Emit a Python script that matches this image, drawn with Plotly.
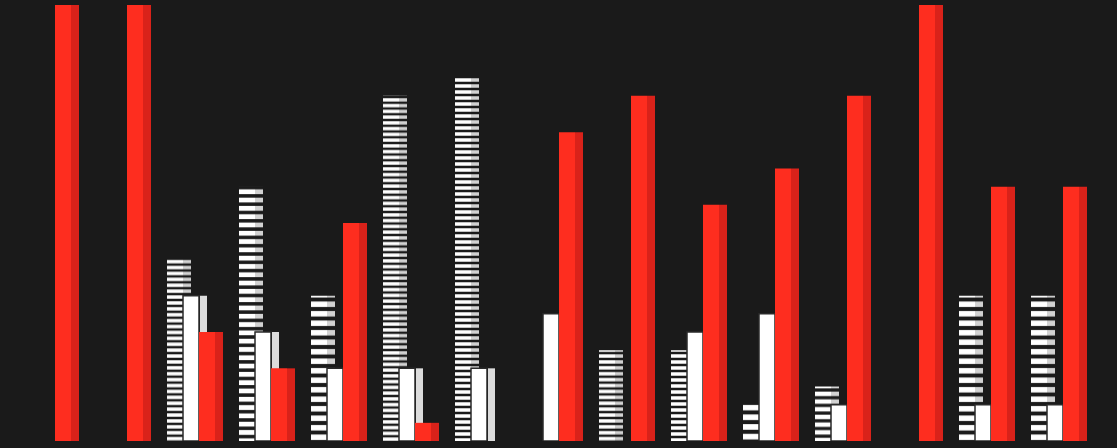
import plotly.graph_objects as go

categories = [str(i + 1) for i in range(15)]
striped = [None, None, 10, 14, 8, 19, 20, None, 5, 5, 2, 3, None, 8, 8]
white = [None, None, 8, 6, 4, 4, 4, 7, None, 6, 7, 2, None, 2, 2]
red = [25, 25, 6, 4, 12, 1, None, 17, 19, 13, 15, 19, 25, 14, 14]

# stripe period (px) of the hatched bars, per category (style only)
stripe_period = [6, 6, 5.9, 8.3, 9.5, 5.75, 6.0, 6, 5.9, 6.0, 9.7, 7.7, 6, 9.5, 9.5]

BG = "#1a1a1a"
U = 1 / 72.0  # one pixel in category units
FACE_W = 16 * U
SIDE_W = 8 * U

fig = go.Figure()

# striped series
fig.add_trace(go.Bar(
    x=categories, y=striped, offset=-28 * U, width=FACE_W,
    marker=dict(color=BG, line=dict(width=0),
                pattern=dict(shape="-", fgcolor="#ffffff", bgcolor=BG,
                             size=stripe_period, solidity=0.58,
                             fillmode="replace")),
    showlegend=False, hoverinfo="skip"))
fig.add_trace(go.Bar(
    x=categories, y=striped, offset=-12 * U, width=SIDE_W,
    marker=dict(color=BG, line=dict(width=0),
                pattern=dict(shape="-", fgcolor="#d2d2d2", bgcolor=BG,
                             size=stripe_period, solidity=0.58,
                             fillmode="replace")),
    showlegend=False, hoverinfo="skip"))

# white series
fig.add_trace(go.Bar(
    x=categories, y=white, offset=-12 * U, width=FACE_W,
    marker=dict(color="#ffffff", line=dict(width=1.5, color="#2a2a2a")),
    showlegend=False, hoverinfo="skip"))
fig.add_trace(go.Bar(
    x=categories, y=white, offset=5 * U, width=7 * U,
    marker=dict(color="#dcdcdc", line=dict(width=0)),
    showlegend=False, hoverinfo="skip"))

# red series
fig.add_trace(go.Bar(
    x=categories, y=red, offset=4 * U, width=FACE_W,
    marker=dict(color="#fe2d1f", line=dict(width=0)),
    showlegend=False, hoverinfo="skip"))
fig.add_trace(go.Bar(
    x=categories, y=red, offset=20 * U, width=SIDE_W,
    marker=dict(color="#d9221a", line=dict(width=0)),
    showlegend=False, hoverinfo="skip"))

fig.update_layout(
    width=1117, height=448,
    margin=dict(l=0, r=0, t=5, b=7),
    paper_bgcolor=BG, plot_bgcolor=BG,
    barmode="overlay",
    xaxis=dict(type="category", range=[-51 / 72, -51 / 72 + 1117 / 72],
               showgrid=False, zeroline=False, showticklabels=False,
               showline=False, ticks=""),
    yaxis=dict(range=[0, 24], showgrid=False, zeroline=False,
               showticklabels=False, showline=False, ticks=""),
)

fig.write_html(
    "out.html",
    config={"displayModeBar": False},
    post_script="document.body.style.margin='0';document.body.style.background='#1a1a1a';document.body.style.overflow='hidden';",
)
